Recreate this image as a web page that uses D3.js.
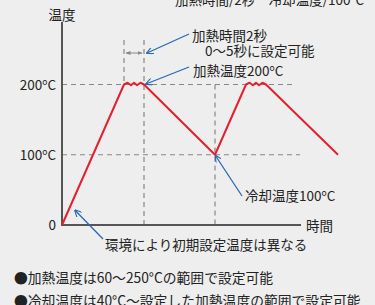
<!DOCTYPE html>
<html>
<head>
<meta charset="utf-8">
<script src="https://cdn.jsdelivr.net/npm/d3@7"></script>
<style>
  html, body { margin: 0; padding: 0; background: #eeeeee; }
  svg { display: block; font-family: "Noto Sans CJK JP", "Noto Sans", sans-serif; }
  text { fill: #222; }
</style>
</head>
<body>
<div class="chart"></div>
<script>
// data (time in seconds, temperature in °C)
var times = [0, 6.2, 6.55, 6.9, 7.2, 7.5, 7.85, 8.2, 15.3, 18.4, 18.75, 19.1, 19.4, 19.7, 20.05, 20.4, 27.6];
var temps = [0, 200, 202.5, 199, 202.5, 199, 202.5, 200, 100, 200, 202.5, 199, 202.5, 199, 202.5, 200, 100];
var yTicks = [0, 100, 200];
var yTickLabels = ['0', '100', '200'];
var heatStart = 6.2, heatEnd = 8.2, coolPoint = 15.3;

var width = 375, height = 305;

var x = d3.scaleLinear().domain([0, 30]).range([62, 362]),
    y = d3.scaleLinear().domain([0, 200]).range([225, 84.5]);

var svg = d3.select('.chart')
    .append('svg')
    .attr('width', width)
    .attr('height', height);

var defs = svg.append('defs');
defs.append('marker')
    .attr('id', 'blueHead')
    .attr('viewBox', '0 0 10 10')
    .attr('refX', 9).attr('refY', 5)
    .attr('markerWidth', 7).attr('markerHeight', 7)
    .attr('markerUnits', 'userSpaceOnUse')
    .attr('orient', 'auto')
    .append('path')
    .attr('d', 'M0,0 L10,5 L0,10')
    .attr('fill', 'none')
    .attr('stroke', '#2a68b2')
    .attr('stroke-width', 1.6);
defs.append('marker')
    .attr('id', 'greyHead')
    .attr('viewBox', '0 0 10 10')
    .attr('refX', 9).attr('refY', 5)
    .attr('markerWidth', 5).attr('markerHeight', 5)
    .attr('markerUnits', 'userSpaceOnUse')
    .attr('orient', 'auto-start-reverse')
    .append('path')
    .attr('d', 'M0,1 L10,5 L0,9 Z')
    .attr('fill', '#888');

// dashed guide lines
var dash = svg.append('g')
    .attr('stroke', '#888')
    .attr('stroke-width', 1.2)
    .attr('stroke-dasharray', '5,4')
    .attr('fill', 'none');
dash.append('line').attr('x1', x(0)).attr('x2', 292).attr('y1', y(200)).attr('y2', y(200));
dash.append('line').attr('x1', x(0)).attr('x2', 300).attr('y1', y(100)).attr('y2', y(100));
dash.append('line').attr('x1', x(heatStart)).attr('x2', x(heatStart)).attr('y1', 40).attr('y2', y(200));
dash.append('line').attr('x1', x(heatEnd)).attr('x2', x(heatEnd)).attr('y1', 40).attr('y2', y(0));
dash.append('line').attr('x1', x(coolPoint)).attr('x2', x(coolPoint)).attr('y1', y(200)).attr('y2', y(0));

// heating-time bracket arrow
svg.append('line')
    .attr('x1', x(heatStart) + 2).attr('x2', x(heatEnd) - 2)
    .attr('y1', 53).attr('y2', 53)
    .attr('stroke', '#888').attr('stroke-width', 1)
    .attr('marker-start', 'url(#greyHead)')
    .attr('marker-end', 'url(#greyHead)');

// axes
svg.append('line')
    .attr('x1', x(0)).attr('x2', x(0))
    .attr('y1', 22).attr('y2', y(0))
    .attr('stroke', '#555').attr('stroke-width', 2);
svg.append('line')
    .attr('x1', x(0) - 1).attr('x2', 301)
    .attr('y1', y(0)).attr('y2', y(0))
    .attr('stroke', '#555').attr('stroke-width', 2);

// y tick labels
var ticks = svg.selectAll('.tick')
    .data(yTicks)
    .enter()
    .append('text')
    .attr('class', 'tick')
    .attr('x', 56)
    .attr('y', function(d){ return y(d) + 5; })
    .attr('text-anchor', 'end')
    .attr('font-size', '13.5px');
ticks.each(function(d, i){
    var t = d3.select(this);
    t.append('tspan').text(yTickLabels[i]);
    if (d > 0) {
        t.append('tspan').attr('font-size', '8.5px').attr('dy', '-5').text('o');
        t.append('tspan').attr('dy', '5').text('C');
    }
});

svg.append('text').attr('x', 62).attr('y', 20).attr('text-anchor', 'middle')
    .attr('font-size', '13.5px').text('温度');
svg.append('text').attr('x', 306).attr('y', 231)
    .attr('font-size', '13.5px').text('時間');

// temperature profile
var line = d3.line()
    .x(function(d, i){ return x(times[i]); })
    .y(function(d){ return y(d); });

svg.append('path')
    .datum(temps)
    .attr('d', line)
    .attr('fill', 'none')
    .attr('stroke', '#e3202c')
    .attr('stroke-width', 2)
    .attr('stroke-linejoin', 'round');

// annotation arrows
var blue = '#2a68b2';
function arrow(x1, y1, x2, y2){
    svg.append('line')
        .attr('x1', x1).attr('y1', y1).attr('x2', x2).attr('y2', y2)
        .attr('stroke', blue).attr('stroke-width', 1.3)
        .attr('marker-end', 'url(#blueHead)');
}
arrow(189, 34, x(heatEnd) + 3, 53);
arrow(189, 67, x(heatEnd) + 2, y(200) - 0.5);
arrow(242, 196, x(coolPoint) + 0.5, y(100) + 1);
arrow(103, 239, x(1.3), y(21));

// annotation texts
function label(tx, ty, size){
    return svg.append('text').attr('x', tx).attr('y', ty)
        .attr('font-size', (size || 13.5) + 'px');
}
label(192, 41).text('加熱時間2秒');
label(205, 56).text('0〜5秒に設定可能');
var l3 = label(193, 76);
l3.append('tspan').text('加熱温度200');
l3.append('tspan').attr('font-size', '8.5px').attr('dy', '-5').text('o');
l3.append('tspan').attr('dy', '5').text('C');
var l4 = label(245, 201);
l4.append('tspan').text('冷却温度100');
l4.append('tspan').attr('font-size', '8.5px').attr('dy', '-5').text('o');
l4.append('tspan').attr('dy', '5').text('C');
label(105, 250).text('環境により初期設定温度は異なる');

// clipped top caption and bullet notes
label(175, 5).text('加熱時間/2秒　冷却温度/100°C');
label(14, 283, 13.8).text('●加熱温度は60〜250°Cの範囲で設定可能');
label(14, 306, 13.8).text('●冷却温度は40°C〜設定した加熱温度の範囲で設定可能');
</script>
</body>
</html>
